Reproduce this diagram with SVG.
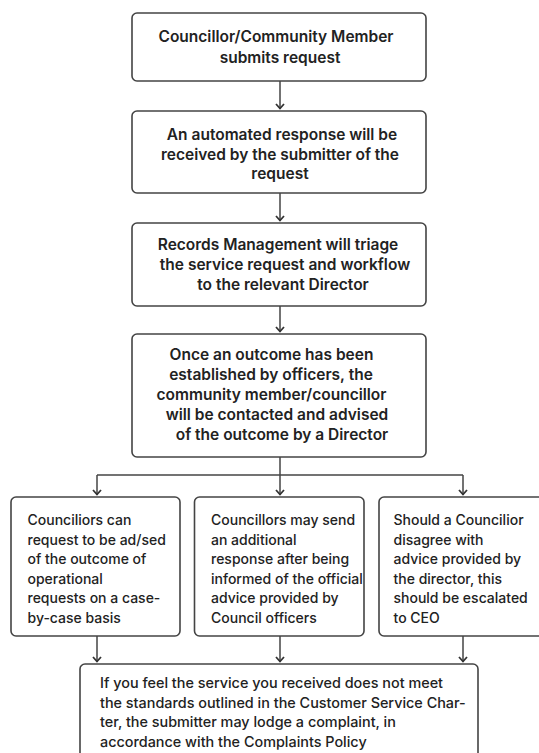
<svg xmlns="http://www.w3.org/2000/svg" width="539" height="753" viewBox="0 0 539 753">
<defs>
<style>
.box{fill:#ffffff;stroke:#444444;stroke-width:1.6}
.conn{fill:none;stroke:#444444;stroke-width:1.5}
.t{font-family:Inter,"Liberation Sans",sans-serif;fill:#222222}
.b{font-size:15.5px;font-weight:600;text-anchor:middle}
.r{font-size:14px;font-weight:500}
.r2{font-size:14.4px;font-weight:500}
</style>
<marker id="arr" viewBox="0 0 8 10" refX="6.5" refY="5" markerWidth="8" markerHeight="10" markerUnits="userSpaceOnUse" orient="auto">
<path d="M1.5,1 L6,5 L1.5,9" fill="none" stroke="#333333" stroke-width="1.8"/>
</marker>
</defs>
<rect width="539" height="753" fill="#ffffff"/>

<g id="connectors">
<path class="conn" d="M280,81 V109" marker-end="url(#arr)"/>
<path class="conn" d="M280,193 V221" marker-end="url(#arr)"/>
<path class="conn" d="M280,306 V332" marker-end="url(#arr)"/>
<path class="conn" d="M280,457 V475"/>
<path class="conn" d="M97,475 H463"/>
<path class="conn" d="M97,475 V495" marker-end="url(#arr)"/>
<path class="conn" d="M280,475 V495" marker-end="url(#arr)"/>
<path class="conn" d="M463,475 V495" marker-end="url(#arr)"/>
<path class="conn" d="M97,636 V662" marker-end="url(#arr)"/>
<path class="conn" d="M280,636 V662" marker-end="url(#arr)"/>
<path class="conn" d="M463,636 V662" marker-end="url(#arr)"/>
</g>

<g id="node1">
<rect class="box" x="132" y="13" width="294" height="68" rx="5"/>
<text class="t b"><tspan x="276" y="42">Councillor/Community Member</tspan><tspan x="280" y="63">submits request</tspan></text>
</g>

<g id="node2">
<rect class="box" x="132" y="111" width="294" height="82" rx="5"/>
<text class="t b"><tspan x="282" y="140">An automated response will be</tspan><tspan x="280" y="159.5">received by the submitter of the</tspan><tspan x="280" y="179">request</tspan></text>
</g>

<g id="node3">
<rect class="box" x="132" y="223" width="294" height="83" rx="5"/>
<text class="t b"><tspan x="278" y="250">Records Management will triage</tspan><tspan x="285" y="270">the service request and workflow</tspan><tspan x="283" y="290">to the relevant Director</tspan></text>
</g>

<g id="node4">
<rect class="box" x="132" y="334" width="294" height="123" rx="5"/>
<text class="t b"><tspan x="271.5" y="360">Once an outcome has been</tspan><tspan x="271" y="380">established by officers, the</tspan><tspan x="271.5" y="400">community member/councillor</tspan><tspan x="277" y="420">will be contacted and advised</tspan><tspan x="282" y="440">of the outcome by a Director</tspan></text>
</g>

<g id="node5">
<rect class="box" x="11" y="497" width="169" height="139" rx="5"/>
<text class="t r"><tspan x="27.5" y="525">Counciliors can</tspan><tspan x="27.5" y="544.5">request to be ad/sed</tspan><tspan x="27.5" y="564">of the outcome of</tspan><tspan x="27.5" y="583.5">operational</tspan><tspan x="27.5" y="603">requests on a case-</tspan><tspan x="27.5" y="622.5">by-case basis</tspan></text>
</g>

<g id="node6">
<rect class="box" x="194.5" y="497" width="169.5" height="139" rx="5"/>
<text class="t r"><tspan x="211" y="525">Councillors may send</tspan><tspan x="211" y="544.5">an additional</tspan><tspan x="211" y="564">response after being</tspan><tspan x="211" y="583.5">informed of the official</tspan><tspan x="211" y="603">advice provided by</tspan><tspan x="211" y="622.5">Council officers</tspan></text>
</g>

<g id="node7">
<rect class="box" x="379" y="497" width="170" height="139" rx="5"/>
<text class="t r"><tspan x="393.5" y="525">Should a Councilior</tspan><tspan x="393.5" y="544.5">disagree with</tspan><tspan x="393.5" y="564">advice provided by</tspan><tspan x="393.5" y="583.5">the director, this</tspan><tspan x="393.5" y="603">should be escalated</tspan><tspan x="393.5" y="622.5">to CEO</tspan></text>
</g>

<g id="node8">
<rect class="box" x="80" y="664" width="398" height="110" rx="5"/>
<text class="t r2"><tspan x="100" y="688">If you feel the service you received does not meet</tspan><tspan x="100" y="707.5">the standards outlined in the Customer Service Char-</tspan><tspan x="100" y="727">ter, the submitter may lodge a complaint, in</tspan><tspan x="100" y="746.5">accordance with the Complaints Policy</tspan></text>
</g>
</svg>
